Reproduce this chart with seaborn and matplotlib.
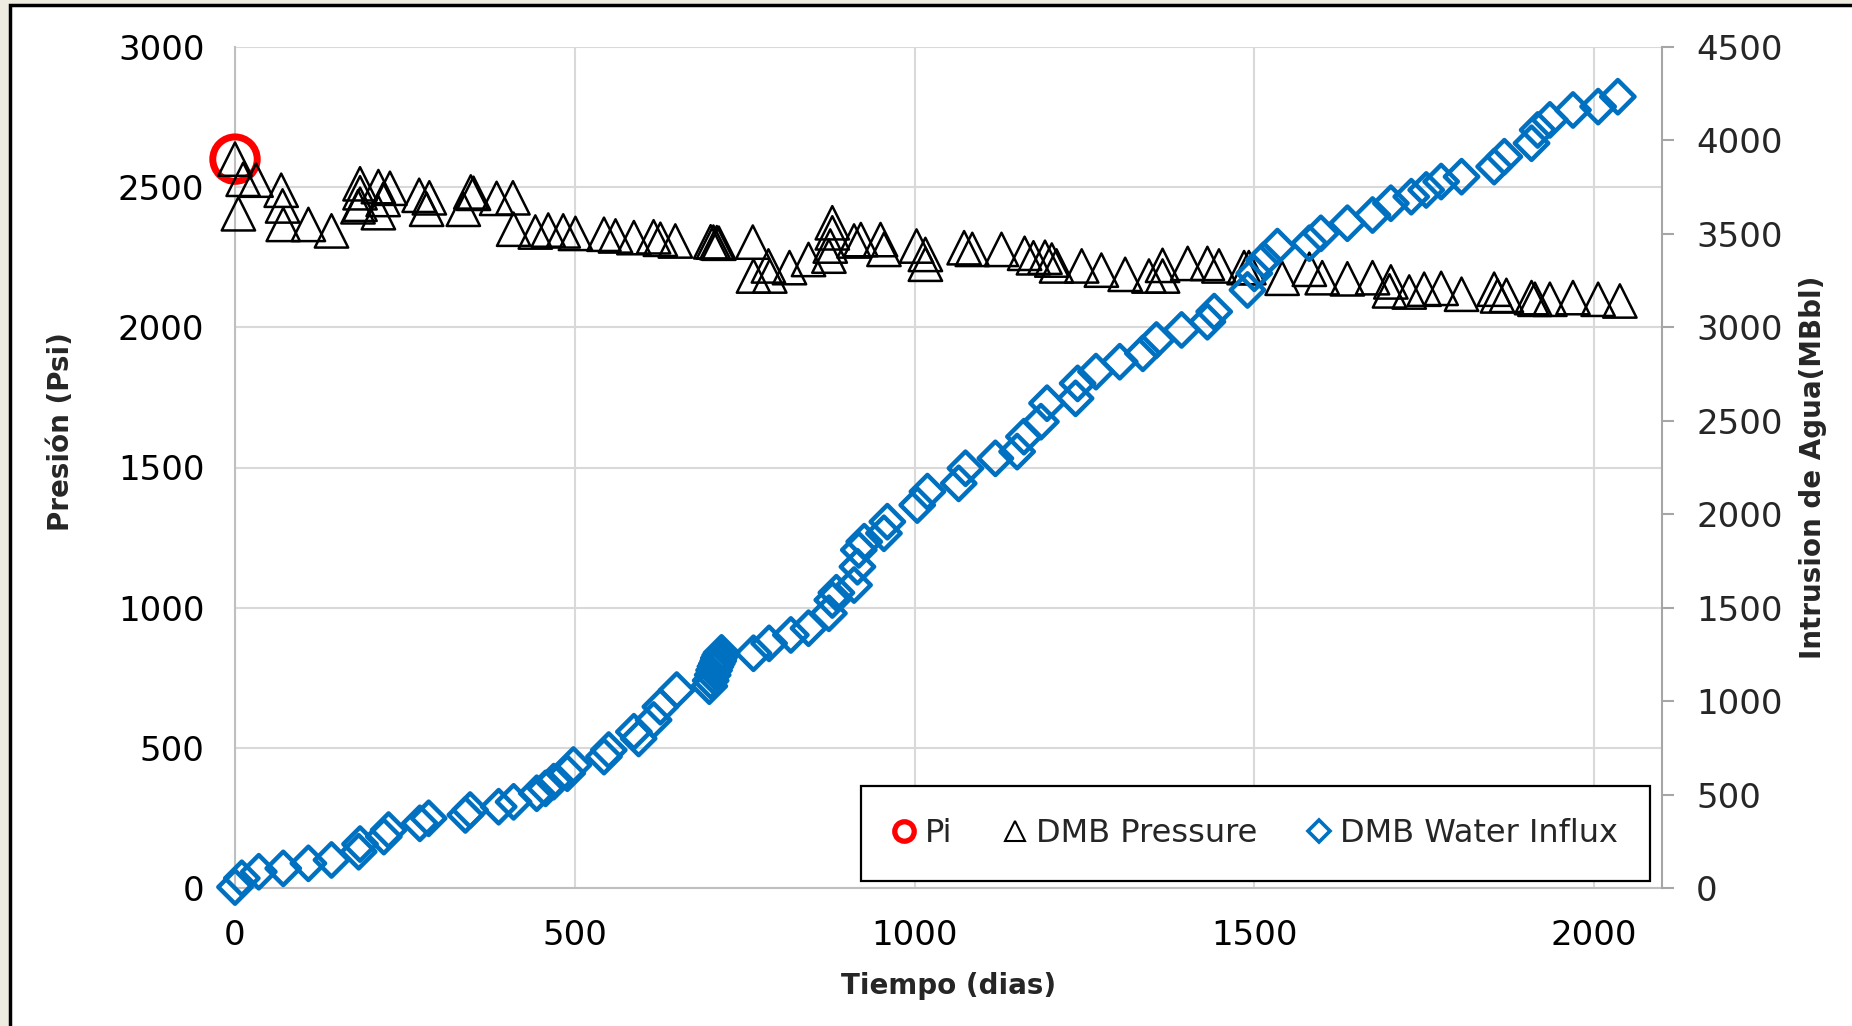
import matplotlib
matplotlib.use("Agg")
import matplotlib.pyplot as plt
import seaborn as sns
import pandas as pd
from matplotlib.lines import Line2D
from matplotlib.patches import Rectangle

# ---------------- data ----------------
pi_days = [0]
pi_psi = [2600]

pres_days = [0, 5, 12, 31, 68, 70, 71, 108, 142, 181, 184, 184, 184, 211, 211, 218, 228,
             271, 282, 286, 336, 347, 351, 385, 409, 410, 442, 461, 483, 501, 543, 560,
             587, 616, 626, 648, 700, 704, 709, 712, 762, 763, 785, 787, 816, 844, 874,
             876, 879, 879, 911, 921, 950, 955, 1003, 1016, 1016, 1073, 1085, 1128, 1162,
             1175, 1192, 1202, 1209, 1246, 1275, 1310, 1345, 1365, 1365, 1402, 1431, 1448,
             1485, 1492, 1541, 1581, 1600, 1637, 1674, 1699, 1701, 1728, 1750, 1775, 1805,
             1853, 1858, 1871, 1908, 1913, 1935, 1969, 2006, 2038]
pres_psi = [2600, 2405, 2528, 2525, 2489, 2433, 2367, 2367, 2344, 2430, 2512, 2480, 2439,
            2502, 2409, 2456, 2496, 2471, 2421, 2462, 2421, 2483, 2478, 2460, 2462, 2350,
            2340, 2347, 2344, 2335, 2332, 2326, 2320, 2323, 2314, 2308, 2305, 2304, 2302,
            2300, 2304, 2183, 2219, 2183, 2213, 2242, 2254, 2290, 2337, 2373, 2308, 2313,
            2313, 2278, 2290, 2260, 2225, 2284, 2278, 2278, 2264, 2248, 2250, 2240, 2219,
            2219, 2204, 2189, 2183, 2221, 2183, 2228, 2228, 2219, 2213, 2213, 2175, 2207,
            2177, 2173, 2177, 2130, 2162, 2126, 2136, 2139, 2118, 2136, 2112, 2114, 2106,
            2100, 2100, 2106, 2100, 2094]

influx_days = [0, 10, 35, 71, 108, 142, 182, 184, 219, 226, 272, 285, 339, 346, 388, 410,
               444, 457, 469, 489, 498, 543, 550, 587, 594, 616, 626, 650, 698, 700, 703, 705,
               707, 709, 711, 712, 714, 716, 763, 786, 818, 844, 874, 879, 885, 911, 916, 918,
               926, 955, 960, 1004, 1019, 1065, 1075, 1119, 1151, 1161, 1186, 1195, 1237, 1240,
               1267, 1302, 1336, 1356, 1393, 1431, 1441, 1490, 1500, 1514, 1534, 1581, 1598,
               1637, 1674, 1701, 1731, 1753, 1775, 1805, 1853, 1868, 1908, 1917, 1935, 1969,
               2006, 2035]
influx_mbbl = [5, 52, 87, 105, 132, 150, 194, 235, 275, 310, 346, 373, 391, 417, 435, 461,
               507, 533, 569, 614, 658, 703, 738, 836, 800, 899, 970, 1059, 1080, 1110, 1140,
               1165, 1185, 1200, 1215, 1230, 1245, 1258, 1256, 1309, 1354, 1390, 1470, 1541,
               1580, 1621, 1719, 1809, 1853, 1898, 1960, 2049, 2121, 2165, 2246, 2299, 2335,
               2415, 2495, 2594, 2620, 2700, 2763, 2816, 2861, 2932, 2986, 3030, 3084, 3200,
               3289, 3360, 3432, 3450, 3503, 3557, 3601, 3664, 3699, 3735, 3780, 3806, 3860,
               3913, 3985, 4056, 4110, 4163, 4181, 4234]

x_ticks = [0, 500, 1000, 1500, 2000]
left_ticks = [0, 500, 1000, 1500, 2000, 2500, 3000]
right_ticks = [0, 500, 1000, 1500, 2000, 2500, 3000, 3500, 4000, 4500]

labels = ["Pi", "DMB Pressure", "DMB Water Influx"]
x_label = "Tiempo (dias)"
y_left_label = "Presión (Psi)"
y_right_label = "Intrusion de Agua(MBbl)"

blue = "#0070C0"
grid_c = "#D9D9D9"
spine_c = "#BFBFBF"

# ---------------- figure ----------------
sns.set_style("white")
plt.rcParams["font.family"] = ["DejaVu Sans"]

W, H = 1852, 1026
fig = plt.figure(figsize=(W / 100, H / 100), dpi=100, facecolor="#EEECE1")
fig.patches.append(Rectangle((10 / W, -0.05), 1.2, 1.05 - 5 / H, transform=fig.transFigure,
                             facecolor="white", edgecolor="black", lw=2.5, zorder=-5))

ax = fig.add_axes([235 / W, 138 / H, 1427 / W, 841 / H])
ax.set_facecolor("white")
ax.patch.set_alpha(0)

df_p = pd.DataFrame({"t": pres_days, "p": pres_psi})
df_pi = pd.DataFrame({"t": pi_days, "p": pi_psi})
df_w = pd.DataFrame({"t": influx_days, "w": influx_mbbl})

sns.scatterplot(data=df_pi, x="t", y="p", ax=ax, marker="o", s=32 ** 2,
                facecolor="none", edgecolor="#FF0000", linewidth=5, legend=False,
                zorder=3, clip_on=False)
sns.scatterplot(data=df_p, x="t", y="p", ax=ax, marker="^", s=24 ** 2,
                facecolor="none", edgecolor="black", linewidth=1.8, legend=False,
                zorder=4, clip_on=False)

ax.set_xlim(0, 2100)
ax.set_ylim(0, 3000)
ax.set_xticks(x_ticks)
ax.set_yticks(left_ticks)
ax.grid(True, color=grid_c, lw=1.5, zorder=0)
ax.set_axisbelow(True)
for s in ["top", "right"]:
    ax.spines[s].set_visible(False)
for s in ["left", "bottom"]:
    ax.spines[s].set_color(spine_c)
    ax.spines[s].set_linewidth(1.5)
ax.tick_params(axis="both", length=0, labelsize=24.5, pad=22, colors="black")
ax.set_xlabel(x_label, fontsize=20, fontweight="bold", labelpad=15)
ax.set_ylabel(y_left_label, fontsize=20, fontweight="bold")
ax.yaxis.set_label_coords(-0.112, 0.543)

ax2 = ax.twinx()
sns.scatterplot(data=df_w, x="t", y="w", ax=ax2, marker="D", s=17 ** 2,
                facecolor="none", edgecolor=blue, linewidth=3.2, legend=False,
                zorder=5, clip_on=False)
ax2.set_ylim(0, 4500)
ax2.set_xlim(0, 2100)
ax2.set_yticks(right_ticks)
for s in ["top", "left", "bottom"]:
    ax2.spines[s].set_visible(False)
ax2.spines["right"].set_color("#A6A6A6")
ax2.spines["right"].set_linewidth(1.5)
ax2.tick_params(axis="y", length=8.5, width=1.5, color="#A6A6A6", pad=16,
                labelsize=24.5, direction="out")
ax2.set_ylabel(y_right_label, fontsize=20, fontweight="bold", labelpad=12)
ax2.grid(False)

handles = [
    Line2D([], [], marker="o", ls="none", mfc="none", mec="#FF0000", mew=3.8, ms=14),
    Line2D([], [], marker="^", ls="none", mfc="none", mec="black", mew=1.5, ms=15),
    Line2D([], [], marker="D", ls="none", mfc="none", mec=blue, mew=2.6, ms=11),
]
leg = ax2.legend(handles, labels, ncol=3, loc="lower right",
                 bbox_to_anchor=(0.9916, 0.0083), bbox_transform=ax2.transAxes,
                 fontsize=23, frameon=True, fancybox=False, framealpha=1,
                 edgecolor="black", handlelength=0.7, handletextpad=0.3,
                 columnspacing=1.6, borderpad=1.0, borderaxespad=0)
leg.get_frame().set_linewidth(1.6)
leg.set_zorder(10)

fig.savefig("out.png", dpi=100, facecolor=fig.get_facecolor())
